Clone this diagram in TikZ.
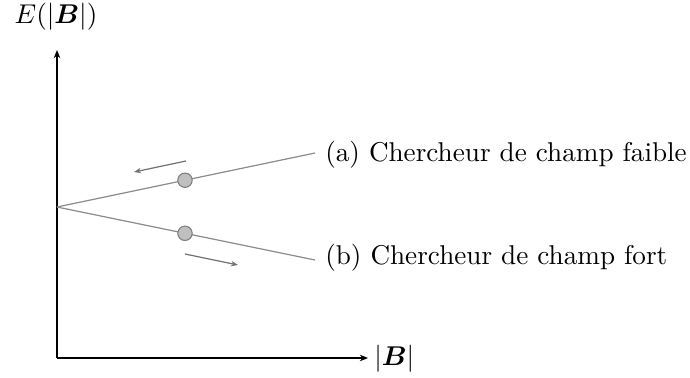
\documentclass[tikz,border=0pt]{standalone}
\usepackage{amsmath,bm}
\usetikzlibrary{arrows.meta}
\begin{document}
\begin{tikzpicture}[x=0.3682pt,y=-0.3682pt,
  axis/.style={line width=0.55pt,-{Stealth[length=3pt,width=2.4pt]}},
  level/.style={draw=black!45,line width=0.45pt},
  dot/.style={circle,draw=black!50,fill=black!25,line width=0.4pt,minimum size=5.3pt,inner sep=0pt},
  move/.style={draw=black!55,line width=0.45pt,-{Stealth[length=2.6pt,width=2pt]}},
  lab/.style={anchor=west,inner sep=1pt,font=\normalsize}]
\useasboundingbox (0,0) rectangle (690,378);
\coordinate (C) at (57,358);
\coordinate (Ytop) at (57,50);
\coordinate (Xend) at (368,358);
\coordinate (O) at (57,207);
\node (ylab) at (56,17) {$E(|\bm{B}|)$};
\node[anchor=west,inner sep=1pt] (xlab) at (371,359) {$|\bm{B}|$};
\draw[axis] (C) -- (Ytop);
\draw[axis] (C) -- (Xend);
\node[lab] (la) at (322,155) {(a) Chercheur de champ faible};
\node[lab] (lb) at (322,258) {(b) Chercheur de champ fort};
\coordinate (ea) at (315,153);
\coordinate (eb) at (315,260);
\draw[level] (O) -- (ea);
\draw[level] (O) -- (eb);
\node[dot] (da) at (185,180.2) {};
\node[dot] (db) at (185,233.3) {};
\coordinate (a1) at (186,161);
\coordinate (a2) at (134,172);
\coordinate (b1) at (185,254);
\coordinate (b2) at (238,265);
\draw[move] (a1) -- (a2);
\draw[move] (b1) -- (b2);
\end{tikzpicture}
\end{document}
